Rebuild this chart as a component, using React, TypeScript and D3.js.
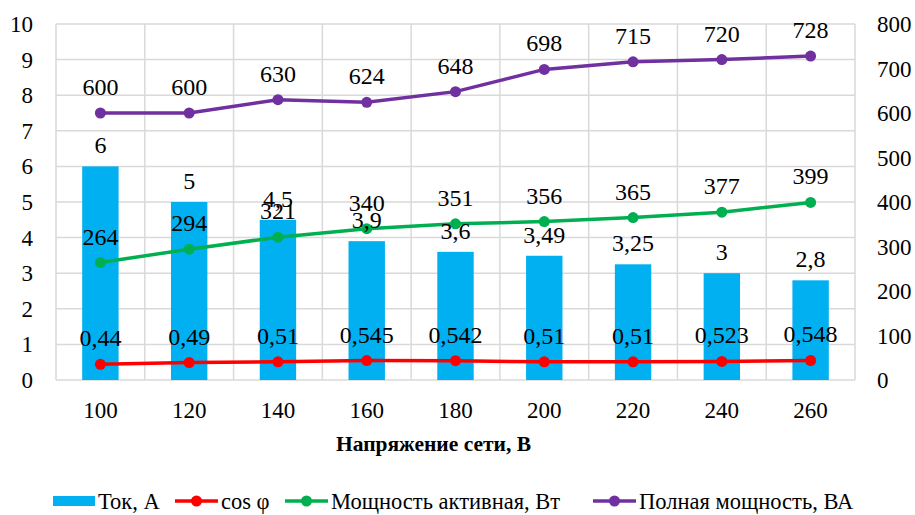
import React from "react";
import * as d3 from "d3";

const categories = ["100", "120", "140", "160", "180", "200", "220", "240", "260"];
const current = [6, 5, 4.5, 3.9, 3.6, 3.49, 3.25, 3, 2.8];
const cosPhi = [0.44, 0.49, 0.51, 0.545, 0.542, 0.51, 0.51, 0.523, 0.548];
const activePower = [264, 294, 321, 340, 351, 356, 365, 377, 399];
const fullPower = [600, 600, 630, 624, 648, 698, 715, 720, 728];
const leftTicks = [0, 1, 2, 3, 4, 5, 6, 7, 8, 9, 10];
const rightTicks = [0, 100, 200, 300, 400, 500, 600, 700, 800];

const W = 915;
const H = 515;
const margin = { top: 24, right: 60, bottom: 135, left: 56 };
const FONT = "Liberation Serif";

const fmt = (v: number) => String(v).replace(".", ",");

// all chart text is Times-like serif
const T = (props: any) => <text fontFamily={FONT} fontSize={23} fill="#000" {...props} />;

const App = () => {
  const innerW = W - margin.left - margin.right;
  const innerH = H - margin.top - margin.bottom;

  const x = d3.scaleBand().domain(categories).range([0, innerW]);
  const yLeft = d3.scaleLinear().domain([0, 10]).range([innerH, 0]);
  const yRight = d3.scaleLinear().domain([0, 800]).range([innerH, 0]);
  const barW = x.bandwidth() * 0.41;
  const cx = (c: string) => (x(c) as number) + x.bandwidth() / 2;

  const line = (vals: number[], y: d3.ScaleLinear<number, number>) =>
    d3
      .line<number>()
      .x((_, i) => cx(categories[i]))
      .y((d) => y(d))(vals) as string;

  const lineSeries = [
    { name: "cos φ", vals: cosPhi, y: yLeft, color: "#ff0000" },
    { name: "Мощность активная, Вт", vals: activePower, y: yRight, color: "#00b050" },
    { name: "Полная мощность, ВА", vals: fullPower, y: yRight, color: "#7030a0" },
  ];

  const grid = "#d9d9d9";
  const legendY = 501;

  return (
    <svg width={W} height={H} style={{ position: "absolute", left: 0, top: 0 }}>
      <rect width={W} height={H} fill="#fff" />
      <g transform={`translate(${margin.left},${margin.top})`}>
        {/* gridlines */}
        {leftTicks.map((t) => (
          <line key={"h" + t} x1={0} x2={innerW} y1={yLeft(t)} y2={yLeft(t)} stroke={grid} strokeWidth={1.5} />
        ))}
        {categories.map((c) => (
          <line key={"v" + c} x1={x(c)} x2={x(c)} y1={0} y2={innerH} stroke={grid} strokeWidth={1.5} />
        ))}
        <line x1={innerW} x2={innerW} y1={0} y2={innerH} stroke={grid} strokeWidth={1.5} />

        {/* bars */}
        {current.map((v, i) => (
          <rect
            key={"b" + i}
            x={cx(categories[i]) - barW / 2}
            y={yLeft(v)}
            width={barW}
            height={innerH - yLeft(v)}
            fill="#00b0f0"
          />
        ))}

        {/* lines */}
        {lineSeries.map((s) => (
          <g key={s.name}>
            <path d={line(s.vals, s.y)} fill="none" stroke={s.color} strokeWidth={3.5} />
            {s.vals.map((v, i) => (
              <circle key={i} cx={cx(categories[i])} cy={s.y(v)} r={5.5} fill={s.color} />
            ))}
          </g>
        ))}

        {/* data labels */}
        {current.map((v, i) => (
          <T key={"bl" + i} x={cx(categories[i])} y={yLeft(v) - 13} textAnchor="middle" fontSize={24}>
            {fmt(v)}
          </T>
        ))}
        {lineSeries.map((s) =>
          s.vals.map((v, i) => (
            <T key={s.name + i} x={cx(categories[i])} y={s.y(v) - 18} textAnchor="middle" fontSize={24}>
              {fmt(v)}
            </T>
          ))
        )}

        {/* left axis */}
        {leftTicks.map((t) => (
          <T key={"lt" + t} x={-23} y={yLeft(t) + 8} textAnchor="end">
            {t}
          </T>
        ))}
        {/* right axis */}
        {rightTicks.map((t) => (
          <T key={"rt" + t} x={innerW + 22} y={yRight(t) + 8} textAnchor="start">
            {t}
          </T>
        ))}
        {/* category axis */}
        {categories.map((c) => (
          <T key={"c" + c} x={cx(c)} y={innerH + 38} textAnchor="middle">
            {c}
          </T>
        ))}
        <T x={innerW / 2 - 22} y={innerH + 71} textAnchor="middle" fontSize={21.5} fontWeight="bold">
          Напряжение сети, В
        </T>
      </g>

      {/* legend */}
      <rect x={53} y={legendY - 5} width={42} height={10} fill="#00b0f0" />
      <T x={98} y={legendY + 8} fontSize={22.5}>Ток, А</T>
      {lineSeries.map((s, i) => {
        const lx = [175, 285, 593][i];
        return (
          <g key={"lg" + s.name}>
            <line x1={lx} x2={lx + 43} y1={legendY} y2={legendY} stroke={s.color} strokeWidth={3.5} />
            <circle cx={lx + 21.5} cy={legendY} r={5.5} fill={s.color} />
            <T x={lx + 46} y={legendY + 8} fontSize={22.5}>{s.name}</T>
          </g>
        );
      })}
    </svg>
  );
};

export default App;
